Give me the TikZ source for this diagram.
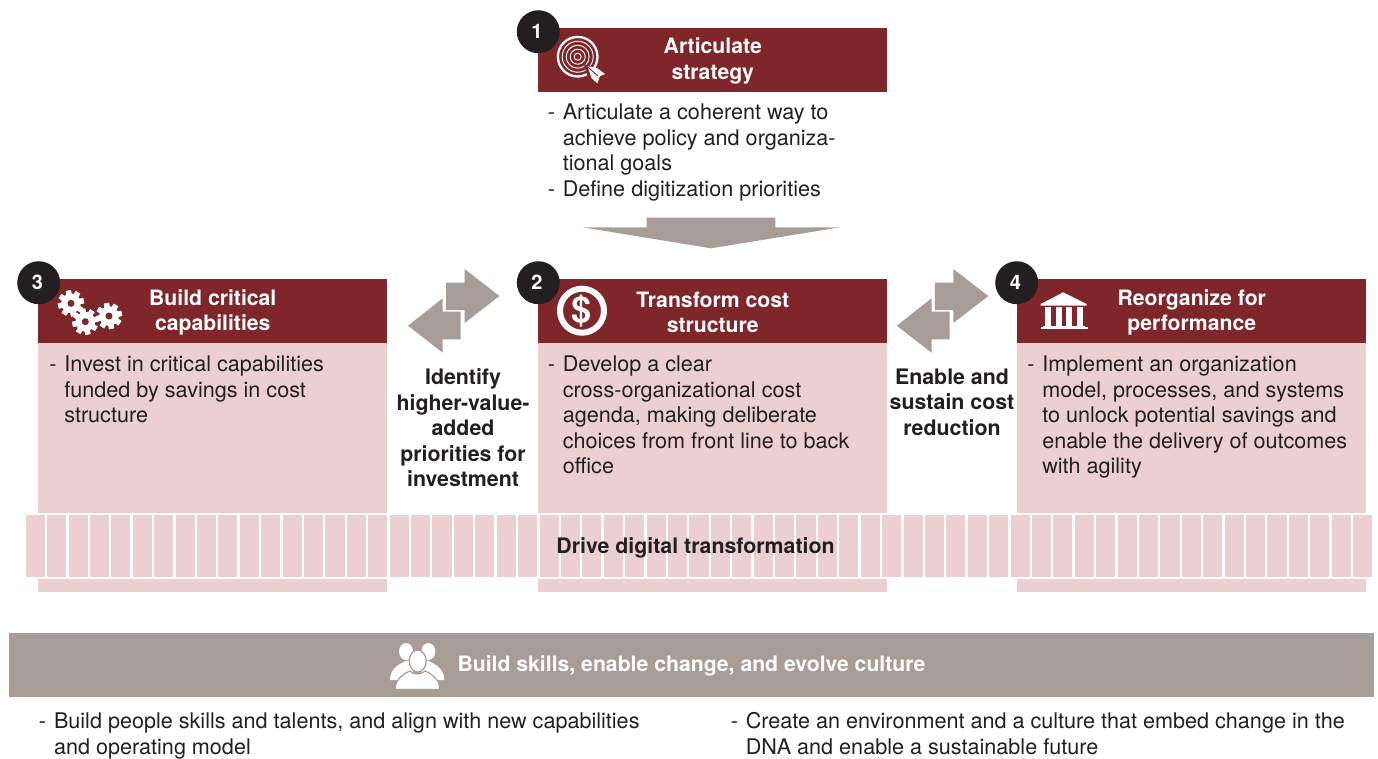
\documentclass[tikz,border=0pt]{standalone}
\usepackage{fontspec}
\setmainfont{TeX Gyre Heros}
\definecolor{wine}{HTML}{7F262A}
\definecolor{blush}{HTML}{ECD0D1}
\definecolor{taupe}{HTML}{A89C96}
\definecolor{ink}{HTML}{231F20}
\newcommand{\dashmark}{\makebox[11.3pt][l]{-}}
\newcommand{\hang}{\hspace*{11.3pt}}
\newcommand{\gearicon}[3]{%
  \begin{scope}[shift={(#1,#2)}]
    \foreach \ang in {0,45,...,315}
      \fill[white,rotate=\ang+12] (-2.6,-#3) rectangle (2.6,#3);
    \fill[white] (0,0) circle [radius=#3*0.76];
    \fill[wine] (0,0) circle [radius=#3*0.27];
  \end{scope}}
\tikzset{
  headbox/.style={anchor=north west,fill=wine,inner sep=0pt,minimum width=261.75pt,minimum height=48pt},
  headtxt/.style={text=white,inner sep=0pt,align=center,font=\fontsize{15.9}{19}\selectfont\bfseries},
  pinkbox/.style={anchor=north west,fill=blush,inner sep=0pt,minimum width=261.75pt,minimum height=186.75pt},
  numdot/.style={circle,fill=ink,text=white,inner sep=0pt,minimum size=32.2pt,font=\fontsize{15}{18}\selectfont\bfseries},
  bodytxt/.style={anchor=north west,inner sep=0pt,align=left,text=ink,font=\fontsize{16.2}{19.15}\selectfont},
  boldtxt/.style={inner sep=0pt,align=center,text=ink,font=\fontsize{16}{19.15}\selectfont\bfseries},
  blockarrow/.style={fill=taupe}
}
\begin{document}
\begin{tikzpicture}[x=0.75pt,y=-0.75pt]
    \useasboundingbox (0,0) rectangle (1378,758);

    % pink panels, then the band over them
    \node [pinkbox] (panelb) at (38,343) {};
    \node [pinkbox] (panelc) at (538,343) {};
    \node [pinkbox] (paneld) at (1017,343) {};
    \fill [white] (25,513) rectangle (1374,579.3);
    \foreach \i in {0,...,62}
        \fill [blush] (25.7+\i*21.41,515.4) rectangle +(19.1,61.4);
    \node [boldtxt] (bandlabel) at (695.5,548) {Drive digital transformation};

    % headers
    \node [headbox] (heada) at (538,28) {};
    \node [headbox] (headb) at (38,279) {};
    \node [headbox] (headc) at (538,279) {};
    \node [headbox] (headd) at (1017,279) {};
    \node [headtxt] (titlea) at ([yshift=-0.5pt]heada.center) {Articulate\\[0.7pt]strategy};
    \node [headtxt] (titleb) at ([yshift=-0.75pt]headb.center) {Build critical\\capabilities};
    \node [headtxt] (titlec) at ([yshift=-0.75pt]headc.center) {Transform cost\\structure};
    \node [headtxt] (titled) at ([yshift=-0.75pt]headd.center) {Reorganize for\\performance};

    % numbers
    \node [numdot] (numa) at (538.3,31.7) {\hspace*{-2pt}1};
    \node [numdot] (numb) at (538.3,282.7) {\hspace*{-2pt}2};
    \node [numdot] (numc) at (38.7,282.7) {\hspace*{-2pt}3};
    \node [numdot] (numd) at (1016.7,282.7) {\hspace*{-2pt}4};

    % texts
    \node [bodytxt] (txta) at (547.5,103.5) {\dashmark Articulate a coherent way to\\\hang achieve policy and organiza-\\\hang tional goals\\\dashmark Define digitization priorities};
    \node [bodytxt] (txtb) at (49,355.5) {\dashmark Invest in critical capabilities\\\hang funded by savings in cost\\\hang structure};
    \node [bodytxt] (txtc) at (547.5,355.5) {\dashmark Develop a clear\\\hang cross-organizational cost\\\hang agenda, making deliberate\\\hang choices from front line to back\\\hang office};
    \node [bodytxt] (txtd) at (1027,355.5) {\dashmark Implement an organization\\\hang model, processes, and systems\\\hang to unlock potential savings and\\\hang enable the delivery of outcomes\\\hang with agility};
    \node [boldtxt] (txtleft) at (463,428) {Identify\\higher-value-\\added\\priorities for\\investment};
    \node [boldtxt] (txtright) at (952,402) {Enable and\\sustain cost\\reduction};

    % block arrows
    \fill [blockarrow] (646.7,217.7)--(775.3,217.7)--(775.3,227.3)--(840,227.3)--(711,248.3)--(582.7,227.3)--(646.7,227.3)--cycle;
    \foreach \dx in {0,488.8} {
        \fill [blockarrow] (446+\dx,282.7)--(464.5+\dx,282.7)--(464.5+\dx,269)--(499.5+\dx,296)--(464.5+\dx,323)--(464.5+\dx,310)--(446+\dx,310)--cycle;
        \fill [blockarrow] (408+\dx,325.7)--(442.7+\dx,298.3)--(442.7+\dx,311.7)--(460.7+\dx,311.7)--(460.7+\dx,339.3)--(442.7+\dx,339.3)--(442.7+\dx,352.7)--cycle;
    }

    % target icon
    \draw [white,line width=1.7pt] (577.7,56.7) circle [radius=19.8];
    \foreach \r in {15.5,11.5,7.5,3.5}
        \draw [white,line width=0.7pt] (577.7,56.7) circle [radius=\r];
    \fill [wine] (584,64) -- (601,70) -- (601,82) -- (589,82) -- cycle;
    \fill [white] (587.3,66)--(597,68)--(605,74)--(600,76)--(597.3,83.3)--(591.7,78.3)--cycle;
    \draw [wine,line width=0.7pt] (586,65.5)--(598,76);

    % dollar icon
    \draw [white,line width=4.5pt] (582,310.7) circle [radius=22];
    \node [inner sep=0pt,text=white,font=\fontsize{27}{27}\selectfont\bfseries] (dollar) at (582,310.7) {\$};

    % gears icon
    \gearicon{71}{303.3}{13}
    \gearicon{85.3}{321.7}{13}
    \gearicon{109}{316}{13}

    % bank icon
    \fill [white] (1063.3,292.3)--(1086.7,304)--(1086.7,305.5)--(1040.7,305.5)--(1040.7,304)--cycle;
    \foreach \cx in {1045,1055.6,1066.2,1076.8}
        \fill [white] (\cx,307) rectangle +(6,18.5);
    \fill [white] (1042.5,325.5) rectangle (1085,327.2);
    \fill [white] (1040.5,327.2) rectangle (1087.5,329.2);

    % bottom bar
    \node [anchor=north west,fill=taupe,inner sep=0pt,minimum width=1023.75pt,minimum height=48pt] (skillbar) at (9,633) {};
    \node [inner sep=0pt,text=white,font=\fontsize{15.9}{19}\selectfont\bfseries] (skilllabel) at (691.5,665.5) {Build skills, enable change, and evolve culture};

    % people icon
    \foreach \hx/\sgn in {406/-1,428.3/1} {
        \fill [white] (\hx,651.5) ellipse [x radius=7,y radius=8.5];
        \fill [white] (\hx-\sgn*6,659) .. controls (\hx+\sgn*4,662) and (\hx+\sgn*16,667) .. (\hx+\sgn*16,680) -- (\hx-\sgn*8,680) -- cycle;
    }
    \fill [white,draw=taupe,line width=0.9pt] (417.7,661) ellipse [x radius=8.5,y radius=11];
    \fill [white,draw=taupe,line width=0.9pt] (410,671) .. controls (400,675) and (395,682) .. (395,689.5) -- (440,689.5) .. controls (440,682) and (435,675) .. (425,671) .. controls (422,675) and (413,675) .. (410,671) -- cycle;

    \node [bodytxt] (txtskilla) at (38.7,712.5) {\dashmark Build people skills and talents, and align with new capabilities\\\hang and operating model};
    \node [bodytxt] (txtskillb) at (730.5,712.5) {\dashmark Create an environment and a culture that embed change in the\\\hang DNA and enable a sustainable future};
\end{tikzpicture}
\end{document}
